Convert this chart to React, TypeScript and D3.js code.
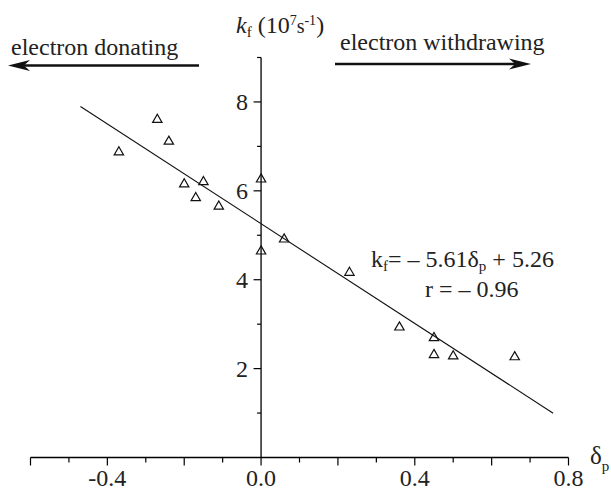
import { useMemo } from "react";
import * as d3 from "d3";

// substituent constant (delta_p) and fluorescence rate constant kf (10^7 s^-1)
const sigmaP = [-0.37, -0.27, -0.24, -0.2, -0.15, -0.17, -0.11, 0.0, 0.0, 0.06, 0.23, 0.36, 0.45, 0.45, 0.5, 0.66];
const kfValues = [6.87, 7.6, 7.11, 6.15, 6.2, 5.84, 5.65, 6.26, 4.64, 4.91, 4.16, 2.93, 2.69, 2.31, 2.28, 2.26];

// regression kf = -5.61 * dp + 5.26, drawn across this range
const fitSlope = -5.61;
const fitIntercept = 5.26;
const fitRange = [-0.47, 0.76];

const xTicks = [-0.6, -0.5, -0.4, -0.3, -0.2, -0.1, 0, 0.1, 0.2, 0.3, 0.4, 0.5, 0.6, 0.7, 0.8];
const xLabels = [-0.4, 0.0, 0.4, 0.8];
const yTicks = [1, 2, 3, 4, 5, 6, 7, 8, 9];
const yLabels = [2, 4, 6, 8];

const W = 611;
const H = 492;
const FONT = "Liberation Serif, Times New Roman, serif";

const Arrow = ({ x1, x2, y }: { x1: number; x2: number; y: number }) => {
  // x2 is the tip
  const dir = x2 > x1 ? 1 : -1;
  const headLen = 22;
  const half = 5.5;
  const back = x2 - dir * headLen;
  const notch = x2 - dir * headLen * 0.72;
  return (
    <g>
      <line x1={x1} x2={notch} y1={y} y2={y} stroke="#111" strokeWidth={2.6} />
      <path
        d={`M${x2},${y} L${back},${y - half} L${notch},${y} L${back},${y + half} Z`}
        fill="#111"
      />
    </g>
  );
};

export default function App() {
  const x = useMemo(() => d3.scaleLinear().domain([-0.6, 0.8]).range([30.5, 568.5]), []);
  const y = useMemo(() => d3.scaleLinear().domain([0, 9]).range([457.5, 57.5]), []);

  const tri = d3.symbol().type(d3.symbolTriangle).size(38)() as string;

  const fitLine = d3
    .line<number>()
    .x((d) => x(d))
    .y((d) => y(fitSlope * d + fitIntercept))(fitRange) as string;

  const x0 = x(0);
  const yBase = y(0);

  return (
    <div>
      <style>{`body{margin:0}`}</style>
      <svg width={W} height={H} fontFamily={FONT} style={{ display: "block", background: "#fff" }}>
        {/* x axis */}
        <line x1={x(-0.6)} x2={x(0.8)} y1={yBase} y2={yBase} stroke="#000" strokeWidth={1.3} />
        {xTicks.map((t, i) => (
          <line
            key={"xt" + i}
            x1={x(t)}
            x2={x(t)}
            y1={yBase}
            y2={yBase + (i % 2 === 0 ? 8 : 5)}
            stroke="#000"
            strokeWidth={1.2}
          />
        ))}
        {xLabels.map((t) => (
          <text key={"xl" + t} x={x(t)} y={486} fontSize={24} textAnchor="middle" fill="#222">
            {t.toFixed(1)}
          </text>
        ))}
        <text x={590} y={464} fontSize={25} fill="#222">
          δ<tspan fontSize={15} dy={7}>p</tspan>
        </text>

        {/* y axis */}
        <line x1={x0} x2={x0} y1={y(9)} y2={yBase} stroke="#000" strokeWidth={1.3} />
        {yTicks.map((t) => (
          <line
            key={"yt" + t}
            x1={x0}
            x2={x0 - (t % 2 === 0 ? 7.5 : 4)}
            y1={y(t)}
            y2={y(t)}
            stroke="#000"
            strokeWidth={1.2}
          />
        ))}
        {yLabels.map((t) => (
          <text key={"yl" + t} x={x0 - 13} y={y(t) + 8} fontSize={24} textAnchor="end" fill="#222">
            {t}
          </text>
        ))}
        <text x={236} y={33} fontSize={24} fill="#222">
          <tspan fontStyle="italic">k</tspan>
          <tspan fontSize={15} dy={4}>f</tspan>
          <tspan dy={-4}> (10</tspan>
          <tspan fontSize={14} dy={-8}>7</tspan>
          <tspan fontSize={20} dy={8}>s</tspan>
          <tspan fontSize={14} dy={-8}>-1</tspan>
          <tspan dy={8}>)</tspan>
        </text>

        {/* regression line */}
        <path d={fitLine} fill="none" stroke="#111" strokeWidth={1.1} />

        {/* data points */}
        {sigmaP.map((s, i) => (
          <path
            key={"p" + i}
            d={tri}
            transform={`translate(${x(s)},${y(kfValues[i])})`}
            fill="none"
            stroke="#111"
            strokeWidth={1.2}
          />
        ))}

        {/* equation */}
        <text x={371} y={267} fontSize={24} fill="#222">
          k<tspan fontSize={15} dy={4}>f</tspan>
          <tspan dy={-4}>= – 5.61δ</tspan>
          <tspan fontSize={15} dy={4}>p</tspan>
          <tspan dy={-4}> + 5.26</tspan>
        </text>
        <text x={425} y={297} fontSize={24} fill="#222">
          r = – 0.96
        </text>

        {/* direction arrows */}
        <text x={11} y={55} fontSize={24} fill="#222">
          electron donating
        </text>
        <Arrow x1={199} x2={8} y={65.5} />
        <text x={340} y={50} fontSize={24} fill="#222">
          electron withdrawing
        </text>
        <Arrow x1={335} x2={531} y={64} />
      </svg>
    </div>
  );
}
